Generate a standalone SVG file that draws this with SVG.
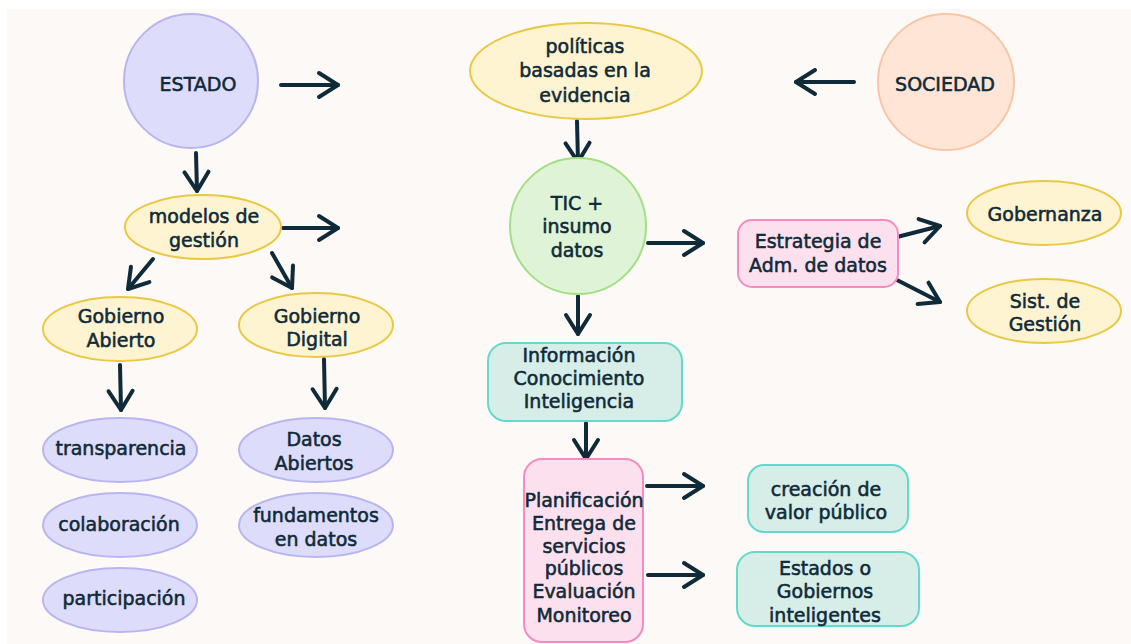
<svg xmlns="http://www.w3.org/2000/svg" width="1131" height="644" viewBox="0 0 1131 644">
<defs>
<style>
text{font-family:"DejaVu Sans","Liberation Sans",sans-serif;font-size:19px;fill:#0f2a38;stroke:#0f2a38;stroke-width:0.55;text-anchor:middle}
.lav{fill:#dedcfb;stroke:#b9b5f0;stroke-width:2}
.yel{fill:#fff4d2;stroke:#e9c843;stroke-width:2}
.grn{fill:#dff4d6;stroke:#a3df86;stroke-width:2}
.pch{fill:#ffe5d6;stroke:#fac5a6;stroke-width:2}
.pnk{fill:#fde0ee;stroke:#f48cc0;stroke-width:2}
.tea{fill:#d6ede8;stroke:#63dac9;stroke-width:2}
.ar{fill:none;stroke:#0f2a38;stroke-width:4;stroke-linecap:round;marker-end:url(#h)}
</style>
<marker id="h" markerUnits="userSpaceOnUse" viewBox="-24 -16 28 32" refX="0" refY="0" markerWidth="28" markerHeight="32" orient="auto">
<path d="M-19,-12 L0,0 L-19,12" fill="none" stroke="#0f2a38" stroke-width="4" stroke-linecap="round" stroke-linejoin="round"/>
</marker>
</defs>
<rect x="0" y="0" width="1131" height="644" fill="#ffffff"/>
<rect x="7" y="9" width="1124" height="635" fill="#fdf9f6"/>

<g id="connectors">
<path class="ar" d="M281,85 L338,85"/>
<path class="ar" d="M196,153 L197,191"/>
<path class="ar" d="M283,228 L338,228"/>
<path class="ar" d="M153,259 L128,289"/>
<path class="ar" d="M272,253 L292,288"/>
<path class="ar" d="M120,365 L121,410"/>
<path class="ar" d="M324,359 L325,408"/>
<path class="ar" d="M577,121 L578,162"/>
<path class="ar" d="M854,82 L796,82"/>
<path class="ar" d="M648,243 L703,243"/>
<path class="ar" d="M897,237 L940,226"/>
<path class="ar" d="M897,280 L940,302"/>
<path class="ar" d="M578,296 L578,334"/>
<path class="ar" d="M586,423 L586,459"/>
<path class="ar" d="M647,486 L703,486"/>
<path class="ar" d="M648,575 L703,575"/>
</g>

<g id="estado"><circle class="lav" cx="191" cy="81" r="67"/><text x="198" y="91">ESTADO</text></g>
<g id="modelos"><ellipse class="yel" cx="203" cy="227" rx="78" ry="32"/><text x="204" y="223">modelos de</text><text x="204" y="247">gestión</text></g>
<g id="gob-abierto"><ellipse class="yel" cx="120" cy="329" rx="77" ry="32"/><text x="121" y="323">Gobierno</text><text x="121" y="347">Abierto</text></g>
<g id="gob-digital"><ellipse class="yel" cx="316" cy="325" rx="77" ry="32"/><text x="317" y="323">Gobierno</text><text x="317" y="346">Digital</text></g>
<g id="transparencia"><ellipse class="lav" cx="120" cy="450" rx="77" ry="32"/><text x="121" y="455">transparencia</text></g>
<g id="colaboracion"><ellipse class="lav" cx="120" cy="525" rx="77" ry="32"/><text x="119" y="531">colaboración</text></g>
<g id="participacion"><ellipse class="lav" cx="120" cy="600" rx="77" ry="32"/><text x="124" y="605">participación</text></g>
<g id="datos-abiertos"><ellipse class="lav" cx="316" cy="450" rx="77" ry="32"/><text x="314" y="446">Datos</text><text x="314" y="470">Abiertos</text></g>
<g id="fundamentos"><ellipse class="lav" cx="316" cy="525" rx="77" ry="32"/><text x="316" y="522">fundamentos</text><text x="316" y="546">en datos</text></g>

<g id="politicas"><ellipse class="yel" cx="586" cy="71" rx="116" ry="48"/><text x="585" y="53">políticas</text><text x="585" y="77">basadas en la</text><text x="585" y="102">evidencia</text></g>
<g id="tic"><circle class="grn" cx="578" cy="226" r="68"/><text x="577" y="210">TIC +</text><text x="577" y="233">insumo</text><text x="577" y="257">datos</text></g>
<g id="sociedad"><circle class="pch" cx="946" cy="82" r="68"/><text x="945" y="91">SOCIEDAD</text></g>
<g id="estrategia"><rect class="pnk" x="738" y="220" width="160" height="67" rx="14"/><text x="818" y="248">Estrategia de</text><text x="818" y="272">Adm. de datos</text></g>
<g id="gobernanza"><ellipse class="yel" cx="1044" cy="213" rx="77" ry="32"/><text x="1045" y="221">Gobernanza</text></g>
<g id="sistema"><ellipse class="yel" cx="1044" cy="311" rx="77" ry="32"/><text x="1045" y="308">Sist. de</text><text x="1045" y="331">Gestión</text></g>
<g id="informacion"><rect class="tea" x="488" y="343" width="194" height="78" rx="18"/><text x="579" y="362">Información</text><text x="579" y="385">Conocimiento</text><text x="579" y="408">Inteligencia</text></g>
<g id="planificacion"><rect class="pnk" x="524" y="459" width="119" height="183" rx="18"/><text x="584" y="507">Planificación</text><text x="584" y="530">Entrega de</text><text x="584" y="553">servicios</text><text x="584" y="575">públicos</text><text x="584" y="598">Evaluación</text><text x="584" y="622">Monitoreo</text></g>
<g id="creacion"><rect class="tea" x="748" y="465" width="160" height="67" rx="16"/><text x="826" y="496">creación de</text><text x="826" y="519">valor público</text></g>
<g id="estados-int"><rect class="tea" x="737" y="552" width="182" height="74" rx="18"/><text x="825" y="575">Estados o</text><text x="825" y="598">Gobiernos</text><text x="825" y="622">inteligentes</text></g>
</svg>
